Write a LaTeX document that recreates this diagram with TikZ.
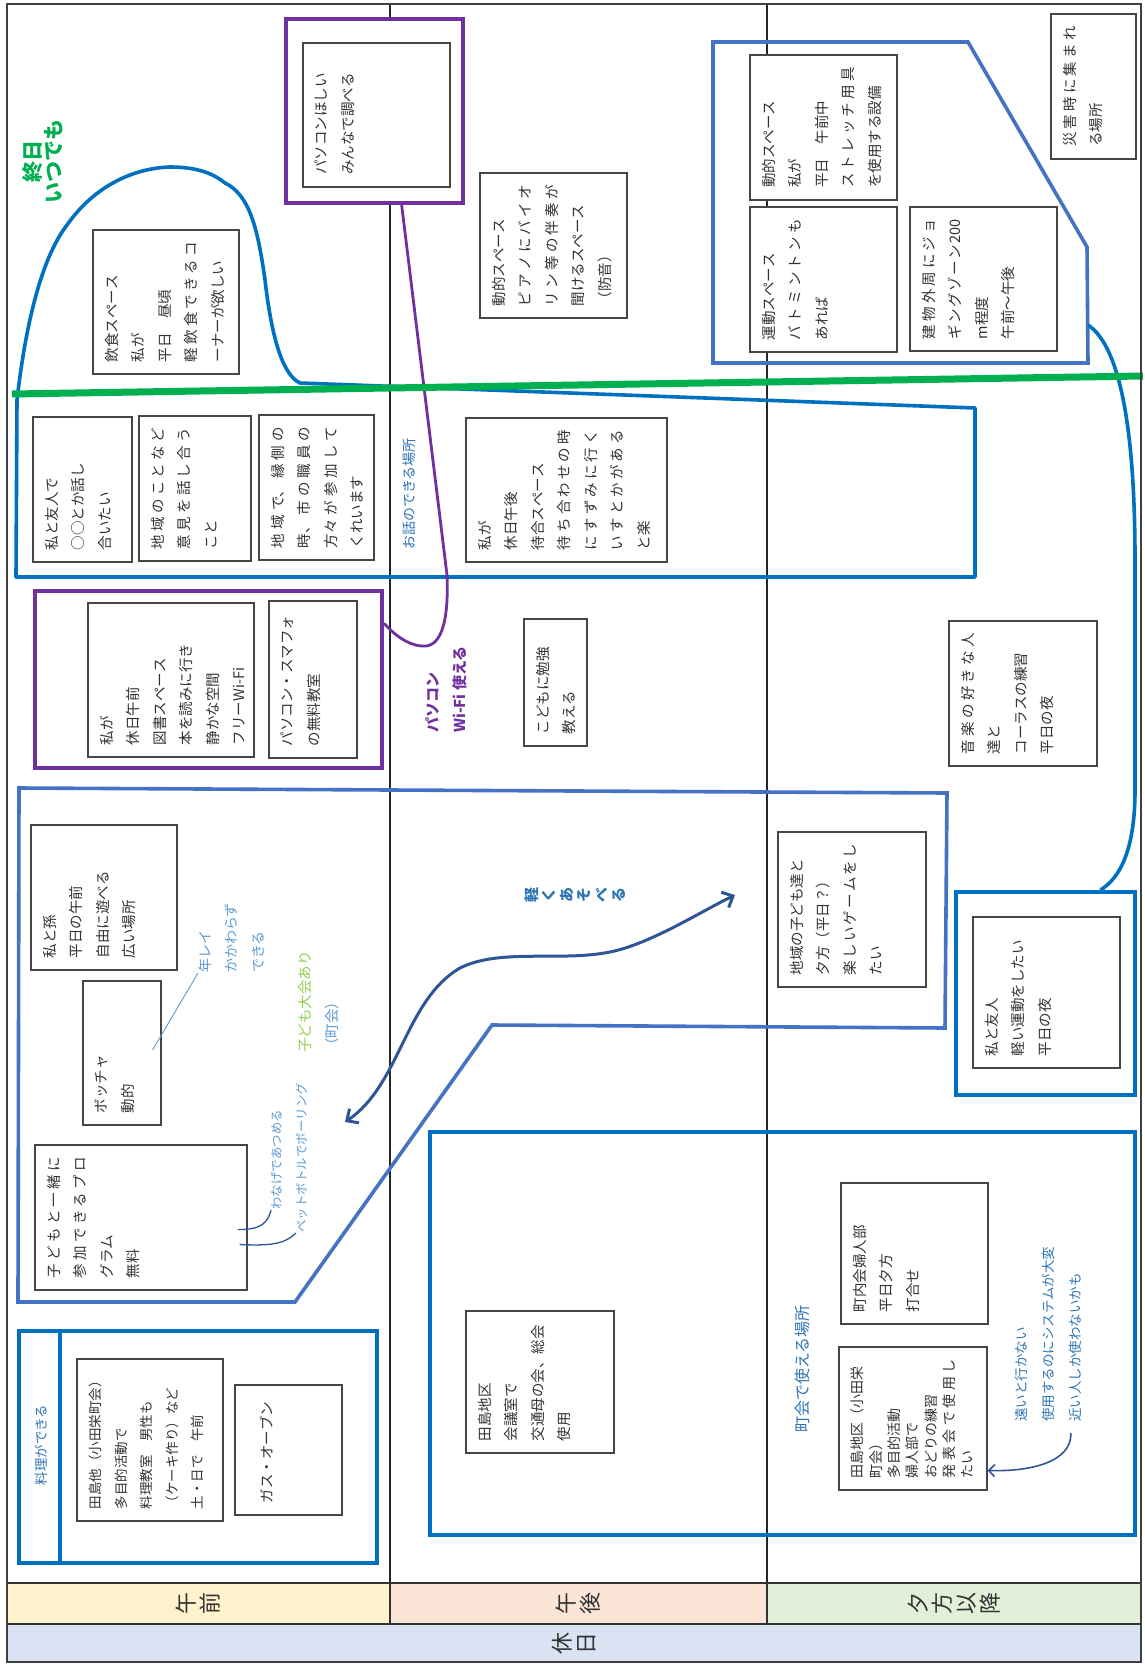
\documentclass[tikz,border=0pt]{standalone}
\usepackage{fontspec}
\usepackage{graphicx}
\usepackage{xcolor}
\setmainfont{Noto Sans CJK JP}
\usetikzlibrary{arrows.meta, calc}
\XeTeXlinebreaklocale "ja"
\XeTeXlinebreakskip=0pt plus 4pt
\definecolor{zoneblue}{RGB}{0,112,192}
\definecolor{areablue}{RGB}{68,114,196}
\definecolor{pcpurple}{RGB}{112,48,160}
\definecolor{allgreen}{RGB}{0,176,80}
\definecolor{kidgreen}{RGB}{146,208,80}
\definecolor{notegray}{RGB}{70,70,70}
\definecolor{navyarrow}{RGB}{47,85,151}
\definecolor{textblue}{RGB}{46,117,182}
\definecolor{lightblue}{RGB}{91,155,213}
\definecolor{amfill}{RGB}{255,242,204}
\definecolor{pmfill}{RGB}{251,229,214}
\definecolor{evfill}{RGB}{226,240,217}
\definecolor{dayfill}{RGB}{218,227,243}
\newcommand{\notefont}{\fontsize{14.5}{26.5}\selectfont}
\newcommand{\tagfont}{\fontsize{14}{26.5}\selectfont}
\newcommand{\headfont}{\fontsize{22}{24}\selectfont}
\newcommand{\memo}[3]{\rotatebox{90}{\parbox[t][\dimexpr #1pt-24pt\relax][t]{\dimexpr #2pt-24pt\relax}{#3}}}

\begin{document}
\begin{tikzpicture}[x=1pt, y=-1pt,
        notebox/.style={draw=notegray, line width=1.1pt, fill=white, text=black!80, inner sep=12pt, font=\notefont},
        tagtext/.style={rotate=90, inner sep=0pt, align=left, anchor=north west, font=\tagfont},
        zoneline/.style={draw=zoneblue, line width=3.6pt, line join=round},
        arealine/.style={draw=areablue, line width=3.6pt},
        pcframe/.style={draw=pcpurple, line width=4pt, fill=white},
        blueframe/.style={draw=zoneblue, line width=4pt},
        bandcell/.style={rotate=90, draw=black!80, line width=1.4pt, text=black!80, font=\headfont, align=center},
        divider/.style={draw=black!85, line width=2.6pt},
        allline/.style={draw=allgreen, line width=7pt},
        linkline/.style={draw=navyarrow, line width=1.6pt},
        thinlink/.style={draw=lightblue, line width=0.9pt},
        playarrow/.style={draw=navyarrow, line width=3pt, {Straight Barb[length=9pt,width=17pt]}-{Straight Barb[length=9pt,width=17pt]}}
    ]
        \fill[white] (0,0) rectangle (1144,1664);
        \useasboundingbox (0,0) rectangle (1144,1664);

        % Column dividers
        \draw[divider] (390,4) -- (390,1583);
        \draw[divider] (767,4) -- (767,1583);

        % Zones
        \draw[zoneline] (16,577) -- (17,400) .. controls (25,330) and (40,260) .. (67,225) .. controls (95,185) and (135,168) .. (170,167) .. controls (200,167) and (215,175) .. (225,183) .. controls (250,195) and (258,230) .. (265,280) .. controls (272,340) and (283,375) .. (300,383) -- (975,408) -- (975,577) -- cycle;
        \draw[arealine] (713,42) -- (968,42) -- (1087,247) -- (1088,363) -- (713,363) -- cycle;
        \draw[arealine] (19,788) -- (947,793) -- (945,1028) -- (492,1025) -- (295,1302) -- (18,1302) -- cycle;
        \coordinate (areacorner) at (1088,325);

        % Frames
        \node[pcframe, minimum width=177, minimum height=184] (pcbox) at (374.5,111) {};
        \node[pcframe, minimum width=347, minimum height=177] (wifibox) at (208.5,679.5) {};
        \node[blueframe, minimum width=179, minimum height=203] (exbox) at (1045.5,993.5) {};
        \node[blueframe, minimum width=358, minimum height=232] (cookbox) at (198,1447) {};
        \node[blueframe, minimum width=705, minimum height=403] (chokaibox) at (782.5,1333.5) {};
        \draw[blueframe] ([xshift=43pt]cookbox.north west) -- ([xshift=43pt]cookbox.south west);

        % Morning column
        \node[notebox] (eat) at (166,302) {\memo{146}{144}{飲食スペース\\私が\\平日　昼頃\\軽飲食できるコ\linebreak ーナーが欲しい}};
        \node[notebox] (pcneed) at (376.5,115) {\memo{147}{144}{パソコンほしい\\みんなで調べる}};
        \node[notebox] (talk1) at (82.5,489.5) {\memo{99}{145}{私と友人で\\○○とか話し\\合いたい}};
        \node[notebox] (talk2) at (195,488.5) {\memo{112}{145}{地域のことなど\linebreak 意見を話し合う\linebreak こと}};
        \node[notebox] (talk3) at (316.5,487.5) {\memo{115}{145}{地域で、縁側の\linebreak 時、市の職員の\linebreak 方々が参加して\linebreak くれいます}};
        \node[notebox] (library) at (171,680) {\memo{166}{154}{私が\\休日午前\\図書スペース\\本を読みに行き\\静かな空間\\フリーWi-Fi}};
        \node[notebox] (pcclass) at (313,679.5) {\memo{88}{157}{パソコン・スマフォ\\の無料教室}};
        \node[notebox] (grand) at (104,897.5) {\memo{146}{145}{私と孫\\平日の午前\\自由に遊べる\\広い場所}};
        \node[notebox] (boccia) at (122,1053) {\memo{78}{144}{ボッチャ\\動的}};
        \node[notebox] (kids) at (141,1217.5) {\memo{212}{145}{子どもと一緒に\linebreak 参加できるプロ\linebreak グラム\\無料}};
        \node[notebox, font=\fontsize{13.5}{25.5}\selectfont] (cook) at (150,1440) {\memo{146}{162}{田島他（小田栄町会）\\多目的活動で\\料理教室　男性も\\（ケーキ作り）など\\土・日で　午前}};
        \node[notebox] (oven) at (288.5,1450) {\memo{107}{130}{\vspace*{13pt}ガス・オーブン}};

        % Afternoon column
        \node[notebox] (piano) at (553.5,245.5) {\memo{147}{145}{動的スペース\\ピアノにバイオ\linebreak リン等の伴奏が\linebreak 聞けるスペース\\（防音）}};
        \node[notebox] (waiting) at (566.5,490) {\memo{201}{144}{私が\\休日午後\\待合スペース\\待ち合わせの時\linebreak にすずみに行く\linebreak いすとかがある\linebreak と楽}};
        \node[notebox] (study) at (555.5,682.5) {\memo{63}{127}{こどもに勉強\\教える}};
        \node[notebox] (kaigi) at (540,1382) {\memo{148}{142}{田島地区\\会議室で\\交通母の会、総会\\使用}};

        % Evening column
        \node[notebox] (stretch) at (823.5,127.5) {\memo{147}{145}{動的スペース\\私が\\平日　午前中\\ストレッチ用具\linebreak を使用する設備}};
        \node[notebox] (badminton) at (823.5,279.5) {\memo{147}{145}{運動スペース\\バトミントンも\linebreak あれば}};
        \node[notebox] (jogging) at (983.5,279) {\memo{147}{144}{建物外周にジョ\linebreak ギングゾーン200\linebreak m程度\\午前～午後}};
        \node[notebox] (disaster) at (1093.5,86.5) {\memo{85}{145}{災害時に集まれ\linebreak る場所}};
        \node[notebox] (chorus) at (1023,693.5) {\memo{148}{145}{音楽の好きな人\linebreak 達と\\コーラスの練習\\平日の夜}};
        \node[notebox] (game) at (852,909.5) {\memo{148}{155}{地域の子ども達と\\夕方（平日？）\\楽しいゲームをし\linebreak たい}};
        \node[notebox] (exercise) at (1046.5,992.5) {\memo{147}{151}{私と友人\\軽い運動をしたい\\平日の夜}};
        \node[notebox] (fujin) at (914.5,1253.5) {\memo{147}{141}{町内会婦人部\\平日夕方\\打合せ}};
        \node[notebox, font=\fontsize{14}{18.3}\selectfont] (odori) at (913,1418.5) {\memo{148}{143}{田島地区（小田栄\\町会）\\多目的活動\\婦人部で\\おどりの練習\\発表会で使用し\linebreak たい}};

        % Handwritten labels
        \node[rotate=90, inner sep=0pt, align=center, text=allgreen, font=\fontsize{21}{21}\selectfont\bfseries] (allday) at (43,162) {終日\\いつでも};
        \node[tagtext, text=textblue] (talklabel) at (403,550) {お話のできる場所};
        \node[tagtext, text=pcpurple, font=\fontsize{15}{27}\selectfont\bfseries] (pclabel) at (425.5,733) {パソコン\\Wi-Fi 使える};
        \node[tagtext, text=lightblue] (age) at (198,973) {年レイ\\かかわらず\\できる};
        \node[tagtext, font=\fontsize{14.5}{27}\selectfont] (kidsmeet) at (298,1053) {\textcolor{kidgreen}{子ども大会あり}\\\textcolor{lightblue}{（町会）}};
        \node[tagtext, text=lightblue, font=\fontsize{12.5}{15}\selectfont] (wanage) at (271,1210) {わなげであつめる};
        \node[tagtext, text=lightblue, font=\fontsize{12.5}{15}\selectfont] (bottle) at (296,1233) {ペットボトルでボーリング};
        \node[rotate=90, inner sep=0pt, align=center, text=textblue, font=\fontsize{15}{17.5}\selectfont\bfseries] (asobu) at (575,895) {軽\\く\\あ\\そ\\べ\\る};
        \node[rotate=90, inner sep=0pt, text=textblue, font=\fontsize{13.5}{16}\selectfont] (cooklabel) at (41,1445) {料理ができる};
        \node[tagtext, text=textblue, font=\fontsize{16}{20}\selectfont] (chokai) at (795,1433) {町会で使える場所};
        \node[tagtext, text=textblue, font=\fontsize{13.5}{27}\selectfont] (far) at (1015,1422) {遠いと行かない\\使用するのにシステムが大変\\近い人しか使わないかも};

        % Connectors
        \draw[draw=pcpurple, line width=2.8pt] ($(pcbox.south west)!0.65!(pcbox.south east)$) -- (447,575) .. controls (449,625) and (440,648) .. (422,646) .. controls (406,645) and (393,633) .. ($(wifibox.north east)!0.19!(wifibox.south east)$);
        \draw[zoneline] (areacorner) .. controls (1118,345) and (1135,420) .. (1135,560) -- (1135,790) .. controls (1135,850) and (1120,878) .. ($(exbox.north west)!0.8!(exbox.north east)$);
        \coordinate (playleft) at (345,1122);
        \coordinate (playright) at (735,895);
        \draw[playarrow] (playleft) .. controls (400,1085) and (405,1000) .. (460,968) .. controls (500,948) and (560,962) .. (610,952) .. controls (650,944) and (700,912) .. (playright);
        \draw[thinlink] ($(boccia.east)+(-9,-3)$) -- (age.north west);
        \draw[linkline, line width=1.3pt] ($(kids.east)+(-10,12)$) .. controls (262,1230) and (268,1222) .. (wanage.north west);
        \draw[linkline, line width=1.3pt] ($(kids.east)+(-8,27)$) .. controls (270,1246) and (285,1244) .. (bottle.north west);
        \draw[linkline, -{Straight Barb[length=6pt,width=12pt]}] ($(far.south west)+(-11,11)$) .. controls (1072,1462) and (1030,1472) .. ($(odori.north east)!0.86!(odori.south east)$);

        % All-day line
        \draw[allline] (12,394) -- (1143,376);

        % Time bands
        \node[bandcell, fill=amfill, minimum width=41, minimum height=383] (am) at (198.5,1603.5) {午\\前};
        \node[bandcell, fill=pmfill, minimum width=41, minimum height=377] (pm) at (578.5,1603.5) {午\\後};
        \node[bandcell, fill=evfill, minimum width=41, minimum height=374] (ev) at (954,1603.5) {夕\\方\\以\\降};
        \node[bandcell, fill=dayfill, minimum width=38, minimum height=1134] (holiday) at (574,1643) {休\\日};

        \draw[draw=black!75, line width=1.6pt] (7,4) rectangle (1141,1662);
    \end{tikzpicture}
\end{document}
